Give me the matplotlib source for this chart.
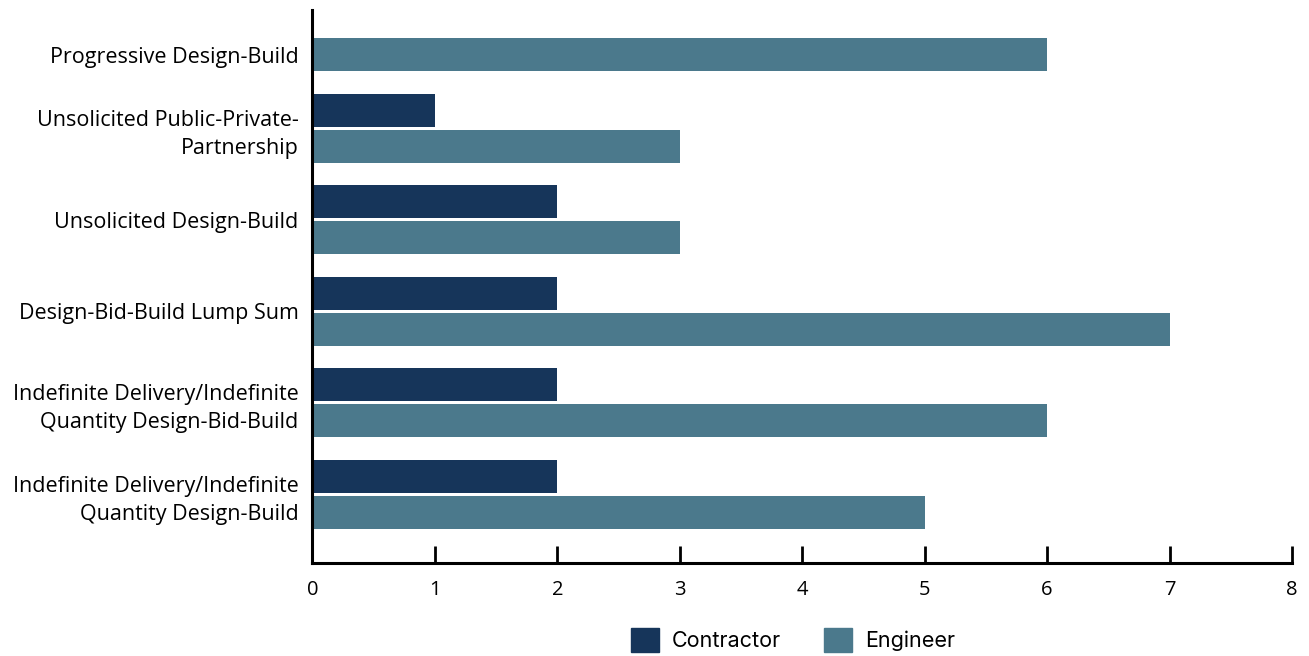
import matplotlib.pyplot as plt
import numpy as np
from matplotlib.patches import Patch

categories = [
    "Progressive Design-Build",
    "Unsolicited Public-Private-\nPartnership",
    "Unsolicited Design-Build",
    "Design-Bid-Build Lump Sum",
    "Indefinite Delivery/Indefinite\nQuantity Design-Bid-Build",
    "Indefinite Delivery/Indefinite\nQuantity Design-Build",
]
contractor = [0, 1, 2, 2, 2, 2]
engineer = [6, 3, 3, 7, 6, 5]
xticks = [0, 1, 2, 3, 4, 5, 6, 7, 8]

c_contractor = "#16355a"
c_engineer = "#4b798c"

plt.rcParams["font.family"] = ["Open Sans", "DejaVu Sans"]

fig = plt.figure(figsize=(13.09, 6.56), dpi=100)
ax = fig.add_axes([0.2387, 0.1418, 0.987 - 0.2387, 0.9848 - 0.1418])

y = np.arange(len(categories))
off = 0.197
h = 0.36
for i in y:
    if contractor[i] > 0:
        ax.barh(i - off, contractor[i], height=h, color=c_contractor)
    ax.barh(i + off, engineer[i], height=h, color=c_engineer)

# label sits on the group centre, or on the single bar when only one is drawn
label_pos = [i if contractor[i] > 0 else i + off for i in y]
ax.set_yticks(label_pos)
ax.set_yticklabels(categories, fontsize=15.5, linespacing=1.45)
ax.tick_params(axis="y", length=0, pad=10)

ax.set_xticks(xticks)
ax.set_xticklabels([str(t) for t in xticks], fontsize=14.5)
ax.tick_params(axis="x", direction="in", length=12, width=2, pad=12)

ax.set_xlim(0, 8)
ax.set_ylim(5.75, -0.29)

for s in ["top", "right"]:
    ax.spines[s].set_visible(False)
for s in ["left", "bottom"]:
    ax.spines[s].set_linewidth(2.2)
    ax.spines[s].set_color("black")

handles = [Patch(color=c_contractor, label="Contractor"),
           Patch(color=c_engineer, label="Engineer")]
fig.legend(handles=handles, loc="center", bbox_to_anchor=(0.606, 0.0245),
           ncol=2, frameon=False, prop={"family": ["Inter", "DejaVu Sans"], "size": 15.5},
           handlelength=1.3, handleheight=1.3, handletextpad=0.6, columnspacing=2.0)

fig.savefig("out.png", dpi=100)
